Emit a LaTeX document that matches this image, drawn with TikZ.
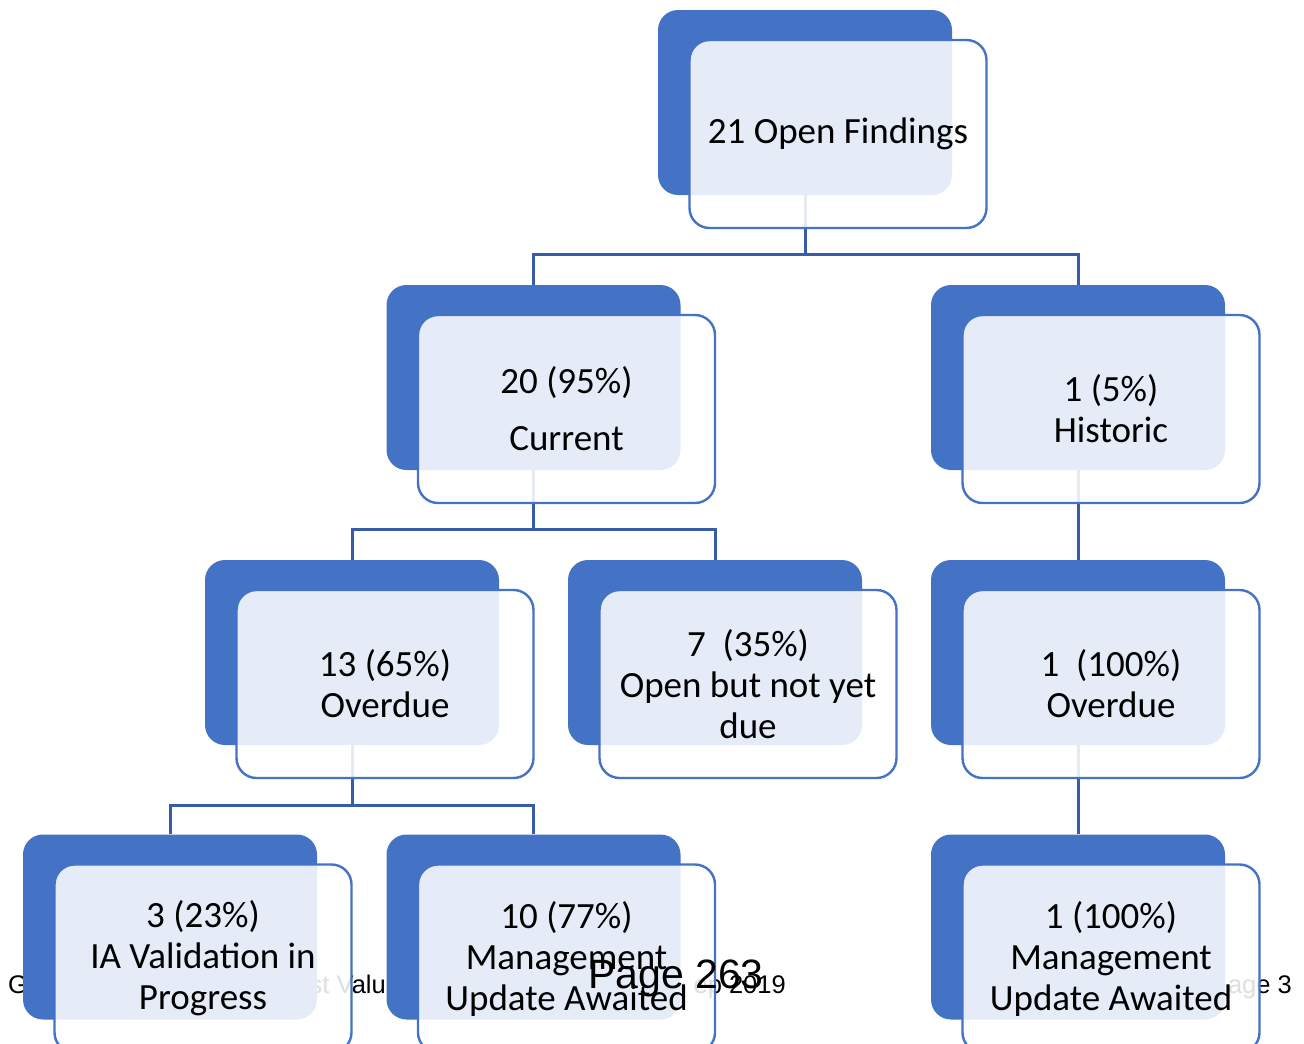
\documentclass[tikz,border=0pt]{standalone}
\usepackage{fontspec}
\setmainfont{Carlito}
\newfontfamily\footfont{Liberation Sans}
\definecolor{boxblue}{RGB}{68,114,196}
\definecolor{linkblue}{RGB}{56,93,168}
\tikzset{
  back/.style={fill=boxblue,draw=none,rounded corners=20pt,
    minimum width=294pt,minimum height=185pt,inner sep=0pt},
  front/.style={fill=white,fill opacity=0.87,text opacity=1,draw=boxblue,
    line width=2.4pt,rounded corners=20pt,minimum width=297pt,
    minimum height=188pt,inner sep=0pt,align=center,
    font=\fontsize{37}{41}\selectfont},
  link/.style={draw=linkblue,line width=3pt},
  foot/.style={font=\footfont\fontsize{25.5}{28}\selectfont,inner sep=0pt,anchor=base east}
}
\begin{document}
\begin{tikzpicture}[x=1pt,y=-1pt]
   \useasboundingbox (0,0) rectangle (1304,1044);
   % page footer behind the chart
   \node[foot,anchor=base west] (fg) at (8,993) {G};
   \node[foot] (fval) at (386,993) {st Valu};
   \node[foot] (fdate) at (786,993) {ep 2019};
   \node[foot] (fpage) at (1292,993) {age 3};
   % back panels
   \node[back] (open) at (805,102.5) {};
   \node[back] (cur) at (533.5,377.5) {};
   \node[back] (hist) at (1078,377.5) {};
   \node[back] (cod) at (352,652.5) {};
   \node[back] (due) at (715,652.5) {};
   \node[back] (hod) at (1078,652.5) {};
   \node[back] (iav) at (170,927) {};
   \node[back] (mua) at (533.5,927) {};
   \node[back] (hmua) at (1078,927) {};
   % connectors
   \draw[link] (open.south) -- ++(0,60);
   \draw[link] (cur.north) -- ++(0,-30) -| (hist.north);
   \draw[link] (cur.south) -- ++(0,60);
   \draw[link] (cod.north) -- ++(0,-30) -| (due.north);
   \draw[link] (hist.south) -- (hod.north);
   \draw[link] (cod.south) -- ++(0,60);
   \draw[link] (iav.north) -- ++(0,-29) -| (mua.north);
   \draw[link] (hod.south) -- (hmua.north);
   % front panels with the texts
   \node[front] (open-t) at ([shift={(33,31.5)}]open.center) {21 Open Findings};
   \node[front] (cur-t) at ([shift={(33,31.5)}]cur.center) {20 (95\%)\\[16pt]Current};
   \node[front] (hist-t) at ([shift={(33,31.5)}]hist.center) {1 (5\%)\\Historic};
   \node[front] (cod-t) at ([shift={(33,31.5)}]cod.center) {13 (65\%)\\Overdue};
   \node[front] (due-t) at ([shift={(33,31.5)}]due.center) {7~~(35\%)\\Open but not yet\\due};
   \node[front] (hod-t) at ([shift={(33,31.5)}]hod.center) {1~~(100\%)\\Overdue};
   \node[front] (iav-t) at ([shift={(33,31.5)}]iav.center) {3 (23\%)\\IA Validation in\\Progress};
   \node[front] (mua-t) at ([shift={(33,31.5)}]mua.center) {10 (77\%)\\Management\\Update Awaited};
   \node[front] (hmua-t) at ([shift={(33,31.5)}]hmua.center) {1 (100\%)\\Management\\Update Awaited};
   % page number on top
   \node[font=\footfont\fontsize{41}{44}\selectfont,inner sep=0pt,anchor=base west] (pnum) at (588,988) {Page 263};
\end{tikzpicture}
\end{document}
